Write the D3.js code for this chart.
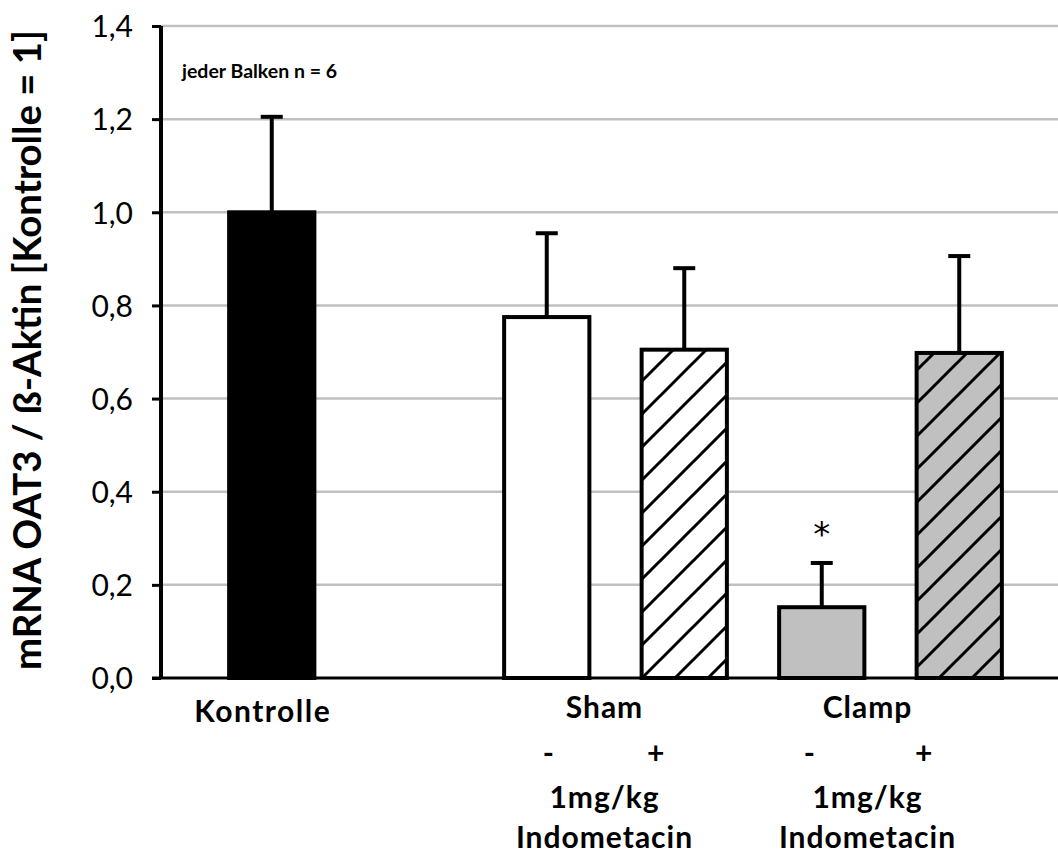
<!DOCTYPE html>
<html>
<head>
<meta charset="utf-8">
<script src="https://cdn.jsdelivr.net/npm/d3@7"></script>
<style>
  body { margin: 0; background: #fff; }
  svg { display: block; }
</style>
</head>
<body>
<svg id="chart" width="1058" height="855"></svg>
<script>
// slots along the x axis; the empty one is the gap after Kontrolle
const categories = ["Kontrolle", "gap", "Sham-", "Sham+", "Clamp-", "Clamp+"];
const means = [1.0, null, 0.775, 0.705, 0.152, 0.698];
const sems = [0.205, null, 0.18, 0.175, 0.095, 0.208];
const fills = ["#000000", null, "#ffffff", "url(#hatchWhite)", "#c0c0c0", "url(#hatchGray)"];
const significant = [false, null, false, false, true, false];
const yTicks = [0, 0.2, 0.4, 0.6, 0.8, 1.0, 1.2, 1.4];

const groupLabels = ["Sham", "Clamp"];
const groupMembers = [["Sham-", "Sham+"], ["Clamp-", "Clamp+"]];
const signLabels = ["-", "+"];
const doseLines = ["1mg/kg", "Indometacin"];

const svg = d3.select("#chart");
const width = 1058;
const axisX = 161;

// scales
const x = d3.scaleBand()
    .domain(categories)
    .range([203, 1028])
    .paddingInner(0.38)
    .paddingOuter(0.19);

const y = d3.scaleLinear()
    .domain([0, 1.4])
    .range([678, 26]);

// hatch patterns
const defs = svg.append("defs");
[["hatchWhite", "#ffffff"], ["hatchGray", "#c0c0c0"]].forEach(([id, bg]) => {
    const p = defs.append("pattern")
        .attr("id", id)
        .attr("patternUnits", "userSpaceOnUse")
        .attr("width", 33)
        .attr("height", 33);
    p.append("rect").attr("width", 33).attr("height", 33).attr("fill", bg);
    p.append("path")
        .attr("d", "M-4,37 L37,-4 M-12,12 L12,-12 M21,45 L45,21")
        .attr("stroke", "#000")
        .attr("stroke-width", 3);
});

// gridlines
svg.append("g")
    .selectAll("line")
    .data(yTicks.filter(d => d > 0))
    .enter().append("line")
    .attr("x1", axisX)
    .attr("x2", width)
    .attr("y1", d => y(d))
    .attr("y2", d => y(d))
    .style("stroke", "#c0c0c0")
    .style("stroke-width", 2.5);

// bars
const bars = categories.map((c, i) => ({ c, m: means[i], e: sems[i], fill: fills[i], sig: significant[i] }))
    .filter(d => d.m !== null);

svg.append("g")
    .selectAll("rect")
    .data(bars)
    .enter().append("rect")
    .attr("x", d => x(d.c))
    .attr("y", d => y(d.m))
    .attr("width", x.bandwidth())
    .attr("height", d => y(0) - y(d.m))
    .style("fill", d => d.fill)
    .style("stroke", "#000")
    .style("stroke-width", 4);

// error bars (upper only)
const err = svg.append("g");
bars.forEach(d => {
    const cx = x(d.c) + x.bandwidth() / 2;
    err.append("line")
        .attr("x1", cx).attr("x2", cx)
        .attr("y1", y(d.m)).attr("y2", y(d.m + d.e))
        .style("stroke", "#000").style("stroke-width", 4);
    err.append("line")
        .attr("x1", cx - 11).attr("x2", cx + 11)
        .attr("y1", y(d.m + d.e)).attr("y2", y(d.m + d.e))
        .style("stroke", "#000").style("stroke-width", 4);
    if (d.sig) {
        err.append("text")
            .attr("x", cx)
            .attr("y", y(d.m + d.e) - 17)
            .attr("text-anchor", "middle")
            .style("font-family", "'DejaVu Sans', sans-serif")
            .style("font-size", "34px")
            .text("*");
    }
});

// y axis
const yAxis = svg.append("g")
    .attr("transform", `translate(${axisX},0)`)
    .call(d3.axisLeft(y)
        .tickValues(yTicks)
        .tickSize(9)
        .tickPadding(19)
        .tickFormat(d => d3.format(".1f")(d).replace(".", ",")));
yAxis.select(".domain").remove();
yAxis.selectAll(".tick line").style("stroke", "#000").style("stroke-width", 3);
yAxis.selectAll("text")
    .attr("dy", "0.36em")
    .style("font-family", "Lato, sans-serif")
    .style("font-size", "30px")
    .style("fill", "#000");

svg.append("line")
    .attr("x1", axisX).attr("x2", axisX)
    .attr("y1", y(1.4)).attr("y2", y(0))
    .style("stroke", "#000").style("stroke-width", 4);

// x axis line
svg.append("line")
    .attr("x1", axisX - 9).attr("x2", width)
    .attr("y1", y(0)).attr("y2", y(0))
    .style("stroke", "#000").style("stroke-width", 3);

// y title, sized to span the axis like the original
const title = svg.append("text")
    .attr("text-anchor", "middle")
    .style("font-family", "Lato, sans-serif")
    .style("font-weight", "bold")
    .style("font-size", "30px")
    .text("mRNA OAT3 / ß-Aktin [Kontrolle = 1]");
const tl = title.node().getComputedTextLength();
title.style("font-size", (30 * 640 / tl) + "px")
    .attr("transform", `translate(41,350) rotate(-90)`);

// note
svg.append("text")
    .attr("x", 182)
    .attr("y", 78)
    .style("font-family", "Lato, sans-serif")
    .style("font-weight", "bold")
    .style("font-size", "19.5px")
    .text("jeder Balken n = 6");

// category labels
const labelFont = g => g
    .attr("text-anchor", "middle")
    .style("font-family", "Lato, sans-serif")
    .style("font-weight", "bold")
    .style("font-size", "30px")
    .style("letter-spacing", "1px");

svg.append("text")
    .call(labelFont)
    .style("letter-spacing", "1.5px")
    .attr("x", x("Kontrolle") + x.bandwidth() / 2 - 9)
    .attr("y", 722)
    .text("Kontrolle");

groupLabels.forEach((g, i) => {
    const [a, b] = groupMembers[i];
    const ca = x(a) + x.bandwidth() / 2;
    const cb = x(b) + x.bandwidth() / 2;
    const mid = (ca + cb) / 2 - 11 - 12 * i;
    svg.append("text").call(labelFont).attr("x", mid).attr("y", 718).text(g);
    svg.append("text").call(labelFont).attr("x", ca + 2 - 14 * i).attr("y", 764).text(signLabels[0]);
    svg.append("text").call(labelFont).attr("x", cb - 28 - 7 * i).attr("y", 764).text(signLabels[1]);
    doseLines.forEach((t, k) => {
        svg.append("text").call(labelFont).attr("x", mid).attr("y", 808 + k * 40).text(t);
    });
});
</script>
</body>
</html>
